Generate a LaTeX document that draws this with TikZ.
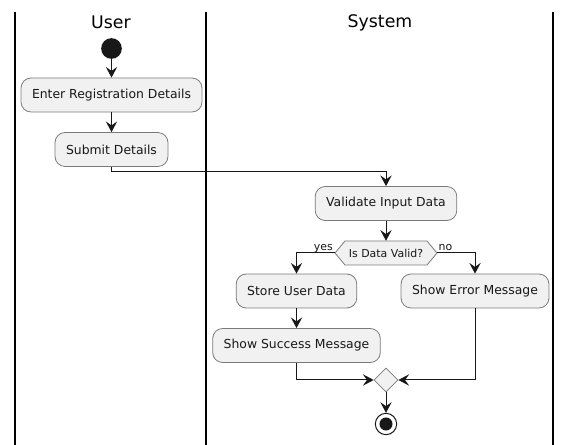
\documentclass[tikz,border=0pt]{standalone}
\usepackage{fontspec}
\setmainfont{DejaVu Sans}
\usetikzlibrary{arrows.meta,shapes.geometric}
\definecolor{boxfill}{HTML}{F1F1F1}
\definecolor{boxline}{HTML}{7A7A7A}
\definecolor{ink}{HTML}{181818}
\begin{document}
\begin{tikzpicture}[x=0.75pt,y=-0.75pt,
  lane/.style={draw=black,line width=1.1pt},
  title/.style={font=\fontsize{13}{15}\selectfont,text=black},
  act/.style={draw=boxline,fill=boxfill,rounded corners=7.5pt,minimum height=25.5pt,
    inner xsep=8.25pt,font=\fontsize{9.3}{11}\selectfont,text=ink,line width=0.6pt},
  condtext/.style={draw=none,minimum height=18pt,inner sep=0pt,font=\fontsize{8.2}{10}\selectfont,text=ink},
  hexa/.style={draw=boxline,fill=boxfill,line width=0.6pt},
  guard/.style={font=\fontsize{8.2}{10}\selectfont,text=ink,inner sep=0pt},
  merge/.style={diamond,draw=boxline,fill=boxfill,minimum width=18pt,minimum height=18pt,inner sep=0pt,line width=0.6pt},
  startdot/.style={circle,fill=ink,minimum size=15.5pt,inner sep=0pt},
  stopring/.style={circle,draw=ink,fill=white,minimum size=16pt,inner sep=0pt,line width=0.75pt},
  flow/.style={draw=ink,line width=0.75pt,-{Stealth[length=8pt,width=8.5pt,inset=3pt]}},
  link/.style={draw=ink,line width=0.75pt}]
\useasboundingbox (0,0) rectangle (572,445);
\fill[white] (0,0) rectangle (572,445);
% swimlanes
\draw[lane] (15,12) -- (15,445);
\draw[lane] (206,12) -- (206,445);
\draw[lane] (553,12) -- (553,445);
\node[title] (tuser) at (111,22.5) {User};
\node[title] (tsys) at (380,22.5) {System};
% nodes
\node[startdot] (start) at (111.5,48.5) {};
\node[act] (enter) at (111.5,95) {Enter Registration Details};
\node[act] (submit) at (111.5,149.5) {Submit Details};
\node[act] (validate) at (386,203.5) {Validate Input Data};
\draw[hexa] (335,253) -- (345,241) -- (427,241) -- (437,253) -- (427,265) -- (345,265) -- cycle;
\node[condtext] (cond) at (386,253) {Is Data Valid?};
\coordinate (cl) at (335,253);
\coordinate (cr) at (437,253);
\node[act] (store) at (296.5,291) {Store User Data};
\node[act] (error) at (475,291) {Show Error Message};
\node[act] (success) at (296.5,345.5) {Show Success Message};
\node[merge] (merge) at (386,380) {};
\node[stopring] (stop) at (386,424) {};
\fill[ink] (stop.center) circle (4.9pt);
% connectors
\draw[flow] (start) -- (enter);
\draw[flow] (enter) -- (submit);
\draw[flow] (submit.south) -- ++(0,4.5) -| (validate.north);
\draw[flow] (validate) -- (cond.north);
\draw[flow] (cl) -| (store.north);
\draw[flow] (cr) -| (error.north);
\node[guard,anchor=base east] (lyes) at ([xshift=-1.5pt,yshift=2.2pt]cl) {yes};
\node[guard,anchor=base west] (lno) at ([xshift=1pt,yshift=2.2pt]cr) {no};
\draw[flow] (store) -- (success);
\draw[flow] (success.south) |- (merge.west);
\draw[flow] (error.south) |- (merge.east);
\draw[flow] (merge) -- (stop);
\end{tikzpicture}
\end{document}
